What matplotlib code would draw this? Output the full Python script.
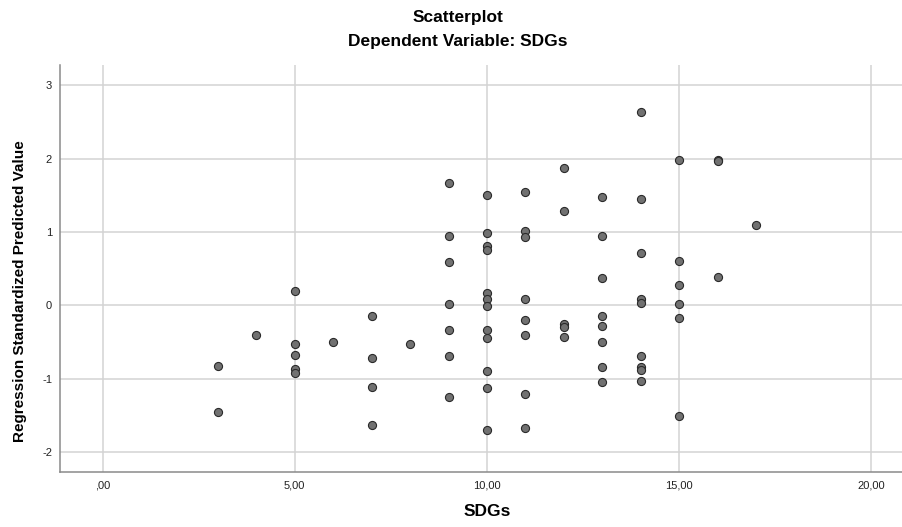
import numpy as np
import matplotlib.pyplot as plt

# SDGs (x) and Regression Standardized Predicted Value (y)
sdgs = [3, 3,
        4,
        5, 5, 5, 5, 5,
        6,
        7, 7, 7, 7,
        8,
        9, 9, 9, 9, 9, 9, 9,
        10, 10, 10, 10, 10, 10, 10, 10, 10, 10, 10, 10,
        11, 11, 11, 11, 11, 11, 11, 11,
        12, 12, 12, 12, 12,
        13, 13, 13, 13, 13, 13, 13, 13,
        14, 14, 14, 14, 14, 14, 14, 14, 14,
        15, 15, 15, 15, 15, 15,
        16, 16, 16,
        17]
pred = [-0.83, -1.46,
        -0.40,
        0.20, -0.53, -0.68, -0.87, -0.92,
        -0.50,
        -0.14, -0.72, -1.12, -1.64,
        -0.53,
        1.67, 0.94, 0.59, 0.02, -0.34, -0.69, -1.25,
        1.50, 0.99, 0.81, 0.75, 0.17, 0.08, -0.01, -0.34, -0.44, -0.90, -1.13, -1.70,
        1.55, 1.02, 0.93, 0.08, -0.20, -0.41, -1.21, -1.68,
        1.87, 1.29, -0.26, -0.29, -0.43,
        1.48, 0.94, 0.37, -0.14, -0.28, -0.50, -0.84, -1.05,
        2.64, 1.45, 0.71, 0.08, 0.03, -0.69, -0.84, -0.88, -1.04,
        1.98, 0.60, 0.27, 0.02, -0.18, -1.51,
        1.98, 1.97, 0.38,
        1.09]

xticks = [0, 5, 10, 15, 20]
xticklabels = [",00", "5,00", "10,00", "15,00", "20,00"]
yticks = [-2, -1, 0, 1, 2, 3]

plt.rcParams['font.family'] = ['Liberation Sans', 'DejaVu Sans']
plt.rcParams['axes.unicode_minus'] = False

fig = plt.figure(figsize=(9.02, 5.27), dpi=100)
ax = fig.add_axes([0.0669, 0.1038, 0.9331, 0.7729])

ax.scatter(sdgs, pred, s=34, c="#717171", edgecolors="#2a2a2a", linewidths=0.8, zorder=3)

ax.set_xlim(-1.1, 20.8)
ax.set_ylim(-2.28, 3.28)
ax.set_xticks(xticks)
ax.set_xticklabels(xticklabels)
ax.set_yticks(yticks)
ax.tick_params(length=0, labelsize=8, colors="#222222", pad=6)
ax.grid(True, color="#d3d3d3", linewidth=1.1)
ax.set_axisbelow(True)
for s in ["top", "right"]:
    ax.spines[s].set_visible(False)
for s in ["left", "bottom"]:
    ax.spines[s].set_color("#8a8a8a")
    ax.spines[s].set_linewidth(1.1)

fig.text(0.508, 0.966, "Scatterplot", ha="center", va="center", fontsize=12.5, fontweight="bold")
fig.text(0.508, 0.922, "Dependent Variable: SDGs", ha="center", va="center", fontsize=12.5, fontweight="bold")
fig.text(0.54, 0.015, "SDGs", ha="center", va="bottom", fontsize=12.5, fontweight="bold")
fig.text(0.022, 0.448, "Regression Standardized Predicted Value", ha="center", va="center",
         rotation=90, fontsize=11, fontweight="bold")

fig.savefig("out.png", dpi=100)
